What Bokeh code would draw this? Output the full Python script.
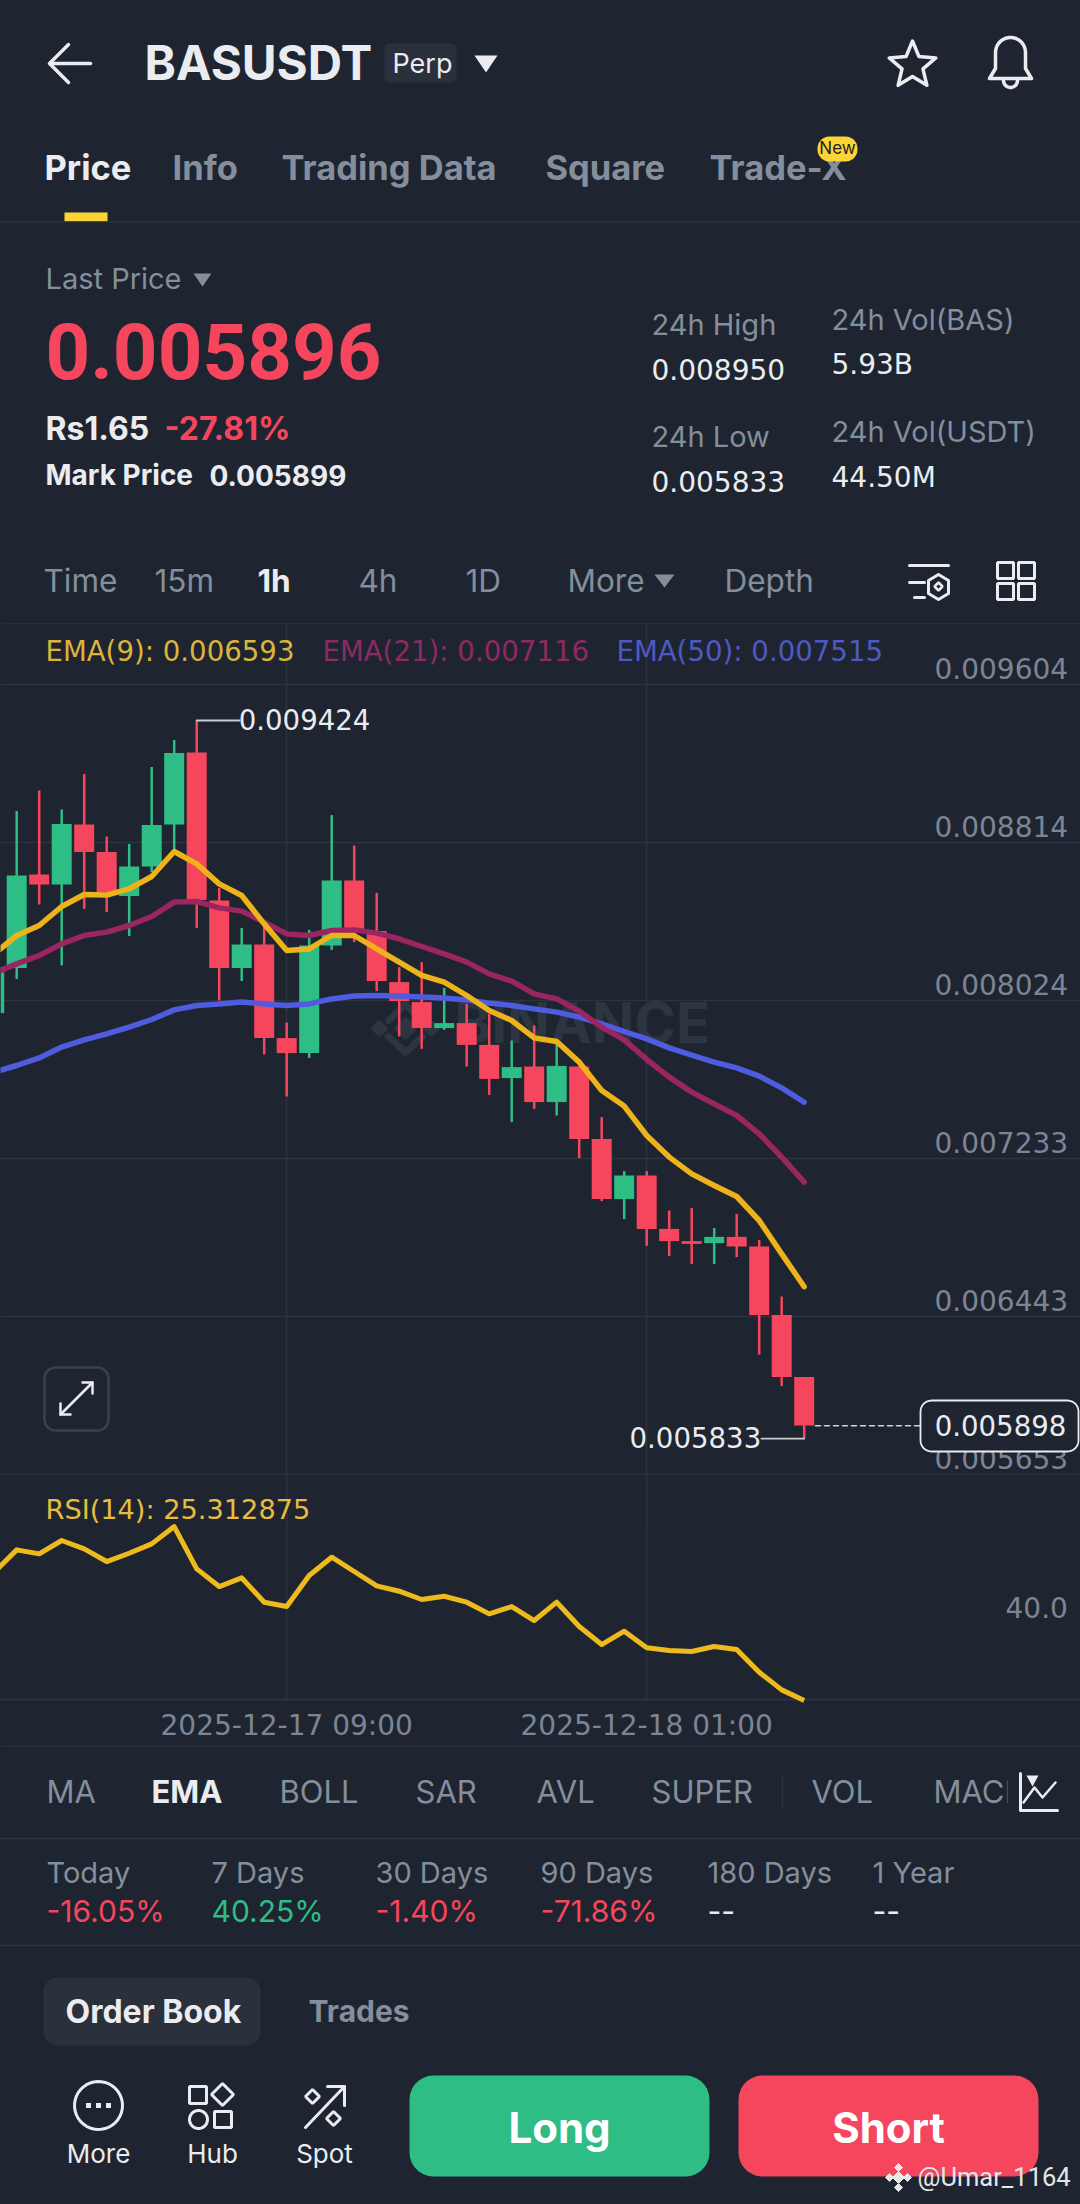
import numpy as np
from bokeh.plotting import figure
from bokeh.layouts import column
from bokeh.models import Range1d, LinearAxis, FixedTicker, PrintfTickFormatter
from bokeh.core.properties import value
from bokeh.embed import file_html
from bokeh.resources import INLINE

# ---------- data ----------
idx = list(range(-1, 36))
opens = [0.007961,0.008186,0.008654,0.008604,0.008904,0.008766,0.008546,0.008694,0.008904,0.009264,0.008524,0.008186,0.008304,0.007836,0.007761,0.008299,0.008624,0.008371,0.008116,0.008016,0.007886,0.007911,0.007802,0.007636,0.007694,0.007516,0.007694,0.007332,0.007031,0.007149,0.006882,0.006821,0.006811,0.006842,0.006794,0.006451,0.006141]
closes = [0.008191,0.008649,0.008604,0.008907,0.008767,0.008566,0.008694,0.008901,0.009261,0.008527,0.008186,0.008304,0.007836,0.007761,0.008299,0.008624,0.008374,0.008121,0.008021,0.007887,0.007911,0.007802,0.007632,0.007691,0.007516,0.007697,0.007332,0.007032,0.007149,0.006882,0.006821,0.006807,0.006842,0.006794,0.006451,0.006141,0.005899]
highs = [0.008300,0.008971,0.009074,0.008979,0.009157,0.008844,0.008807,0.009191,0.009327,0.009424,0.008587,0.008386,0.008424,0.007914,0.008377,0.008951,0.008799,0.008562,0.008191,0.008216,0.008087,0.008007,0.007957,0.007824,0.007899,0.007832,0.007697,0.007441,0.007171,0.007171,0.006974,0.006987,0.006887,0.006957,0.006827,0.006544,0.006141]
lows = [0.007961,0.008132,0.008504,0.008199,0.008482,0.008466,0.008346,0.008666,0.008774,0.008387,0.008024,0.008121,0.007754,0.007544,0.007737,0.008277,0.008316,0.008071,0.007844,0.007782,0.007877,0.007694,0.007552,0.007416,0.007482,0.007449,0.007236,0.007021,0.006931,0.006797,0.006746,0.006707,0.006707,0.006741,0.006254,0.006096,0.005833]
ema9 = [0.008257,0.008349,0.008399,0.008494,0.008554,0.008551,0.008582,0.008644,0.008769,0.008707,0.008607,0.008549,0.008407,0.008274,0.008282,0.008349,0.008349,0.008282,0.008216,0.008150,0.008116,0.008049,0.007974,0.007924,0.007837,0.007819,0.007716,0.007574,0.007496,0.007349,0.007241,0.007157,0.007099,0.007044,0.006924,0.006757,0.006593]
ema21 = [0.008161,0.008207,0.008249,0.008307,0.008349,0.008366,0.008399,0.008444,0.008516,0.008519,0.008487,0.008471,0.008416,0.008357,0.008349,0.008374,0.008377,0.008361,0.008332,0.008294,0.008257,0.008216,0.008157,0.008121,0.008057,0.008032,0.007971,0.007891,0.007827,0.007729,0.007641,0.007566,0.007507,0.007449,0.007357,0.007241,0.007116]
ema50 = [0.007666,0.007699,0.007737,0.007791,0.007827,0.007857,0.007891,0.007929,0.007977,0.007999,0.008007,0.008016,0.008007,0.007999,0.008007,0.008032,0.008046,0.008049,0.008047,0.008041,0.008037,0.008027,0.008011,0.007999,0.007982,0.007966,0.007941,0.007907,0.007869,0.007832,0.007787,0.007751,0.007716,0.007687,0.007646,0.007587,0.007515]
rsi = [45.51,49.03,48.40,50.50,49.19,47.19,48.50,49.97,52.70,46.04,43.25,44.62,40.79,40.10,44.99,47.87,45.62,43.36,42.52,41.21,41.73,40.79,38.95,40.10,37.90,40.79,36.96,34.12,36.22,33.60,33.18,33.02,33.81,33.33,29.76,26.98,25.31]
price_ticks = [0.009604,0.008814,0.008024,0.007233,0.006443,0.005653]
time_ticks = [12, 28]
time_labels = ["2025-12-17 09:00", "2025-12-18 01:00"]
high_val, low_val, last_val = 0.009424, 0.005833, 0.005898

tabs = [("Price",44),("Info",172),("Trading Data",281),("Square",545),("Trade-X",709)]
intervals = [("Time",43),("15m",154),("1h",257),("4h",358),("1D",465),("More",567),("Depth",724)]
stats_l = [("24h High","0.008950",651,325,370),("24h Low","0.005833",651,437,482),
           ("24h Vol(BAS)","5.93B",831,320,365),("24h Vol(USDT)","44.50M",831,432,478)]
indicators = [("MA",46),("EMA",151),("BOLL",279),("SAR",415),("AVL",536),("SUPER",651),("VOL",811),("MACD",933)]
periods = [("Today","-16.05%",46),("7 Days","40.25%",211),("30 Days","-1.40%",375),("90 Days","-71.86%",540),("180 Days","--",707),("1 Year","--",872)]

# ---------- style ----------
BG="#1e2530"; GRID="#2c333e"; RED="#f6465d"; GREEN="#2ebd85"; GRAY="#848e9c"
WHITE="#eaecef"; CHIP="#2a303c"; YEL="#fcd535"; FONT="Inter"; NUM="DejaVu Sans"; AXC="#7d8594"

def fig(h, xr, yr):
    p = figure(width=1080, height=h, x_range=xr, y_range=yr, output_backend="svg", toolbar_location=None,
               background_fill_color=BG, border_fill_color=BG, min_border=0, outline_line_color=None,
               x_axis_location=None, y_axis_location=None)
    p.grid.visible = False
    return p

def T(p, x, y, s, size, color, bold=False, align="left", level="glyph", font=FONT):
    p.text(x=[x], y=[y], text=[s], y_offset=-1.5, text_font=value(font), text_font_size=value(f"{size}px"),
           text_color=color, text_align=align, text_baseline="middle",
           text_font_style="bold" if bold else "normal", level=level)

def L(p, xs, ys, color=WHITE, w=3.0, level="glyph", dash="solid"):
    p.line(xs, ys, line_color=color, line_width=w, level=level, line_dash=dash, line_join="round", line_cap="round")

def rr_pts(x0,y0,x1,y1,r):
    a=np.linspace(0,np.pi/2,8)
    xs=np.concatenate([x1-r+r*np.sin(a), x1-r+r*np.cos(a), x0+r-r*np.sin(a), x0+r-r*np.cos(a)])
    ys=np.concatenate([y0+r-r*np.cos(a), y1-r+r*np.sin(a), y1-r+r*np.cos(a), y0+r-r*np.sin(a)])
    return xs,ys

def RR(p,x0,y0,x1,y1,r,fill=None,line=None,w=2,level="glyph",fx=lambda v:v,fy=lambda v:v):
    xs,ys=rr_pts(x0,y0,x1,y1,r)
    p.patch(fx(xs),fy(ys),fill_color=fill,fill_alpha=1 if fill else 0,line_color=line,line_width=w,level=level)

def circ(cx,cy,r,a0=0,a1=2*np.pi,n=40):
    a=np.linspace(a0,a1,n)
    return cx+r*np.cos(a), cy+r*np.sin(a)

def dia(p,cx,cy,r,color,fill=True,w=3,fx=lambda v:v,fy=lambda v:v):
    xs=np.array([cx,cx+r,cx,cx-r,cx]); ys=np.array([cy-r,cy,cy+r,cy,cy-r])
    p.patch(fx(xs),fy(ys),fill_color=color if fill else None,fill_alpha=1 if fill else 0,line_color=color,line_width=w)

# ---------- header ----------
h = fig(624, Range1d(0,1080), Range1d(624,0))
L(h,[50,90],[63,63],WHITE,3.5); L(h,[68,49,68],[44,63,82],WHITE,3.5)
T(h,144,63,"BASUSDT",47.5,WHITE,True)
RR(h,384,43,456,82,5,CHIP)
T(h,392,64,"Perp",27,WHITE)
h.patch([474,497,485.5],[55,55,72],fill_color=WHITE,line_color=None)
a=np.linspace(-np.pi/2,1.5*np.pi,11); rad=np.array([24.5,11]*5+[24.5])
h.patch(912+rad*np.cos(a),65+rad*np.sin(a),fill_alpha=0,line_color=WHITE,line_width=3.5,line_join="round")
bx,by=circ(1010,52,15,np.pi,2*np.pi,20)
L(h,np.concatenate([[989,995],bx,[1025,1031,989]]),np.concatenate([[78,68],by,[68,78,78]]),WHITE,3.5)
bx,by=circ(1010,80,7,0,np.pi,12); L(h,bx,by,WHITE,3.5)
for i,(s,x) in enumerate(tabs):
    T(h,x,168,s,34.5,WHITE if i==0 else GRAY,True)
h.quad(left=[64],right=[107],top=[212],bottom=[221],fill_color=YEL,line_color=None)
L(h,[0,1080],[221.5,221.5],GRID,1.5)
RR(h,817,136,857,161,12,YEL,level="overlay")
T(h,837,149,"New",17,"#1e2329",False,"center",level="overlay")
T(h,45,279,"Last Price",29,GRAY)
h.patch([193,211,202],[273,273,286],fill_color=GRAY,line_color=None)
T(h,45,352,"0.005896",78,RED,True,font="Roboto")
T(h,45,429,"Rs1.65",32,WHITE,True)
T(h,164,429,"-27.81%",32,RED,True)
T(h,45,476,"Mark Price",28,WHITE,True)
T(h,209,476,"0.005899",28,WHITE,True)
for lab,val,x,y1,y2 in stats_l:
    T(h,x,y1,lab,29,GRAY); T(h,x,y2,val,28,WHITE,font=NUM)
for s,x in intervals:
    T(h,x,581,s,31.5,WHITE if s=="1h" else GRAY,s=="1h")
h.patch([654,674,664],[574,574,587],fill_color=GRAY,line_color=None)
L(h,[909,948],[565,565],WHITE,3); L(h,[909,924],[582,582],WHITE,3); L(h,[914,924],[597,597],WHITE,3)
xs=np.array([938,948,948,938,928,928,938]); ys=np.array([574,580,593,599,593,580,574]); L(h,xs,ys,WHITE,3)
dia(h,938,586,4,WHITE,False,2.5)
for cx,cy in [(1005,570),(1026,570),(1005,591),(1026,591)]:
    h.quad(left=[cx-8],right=[cx+8],top=[cy-8],bottom=[cy+8],fill_alpha=0,line_color=WHITE,line_width=3)
L(h,[0,1080],[623.5,623.5],GRID,1.5)

# ---------- price chart ----------
X=lambda px:(np.asarray(px,dtype=float)-16.2)/22.5
Y=lambda py:0.008024+(1000-np.asarray(py,dtype=float))*5e-6
x_rng=Range1d(float(X(0)),float(X(1080)))
P_TOP=float(Y(624)); P_BOT=float(Y(1475))
p = fig(851, x_rng, Range1d(P_BOT,P_TOP))
p.xgrid.visible=True; p.ygrid.visible=True
p.xgrid.ticker=FixedTicker(ticks=time_ticks); p.ygrid.ticker=FixedTicker(ticks=price_ticks)
p.xgrid.grid_line_color=GRID; p.ygrid.grid_line_color=GRID
p.xgrid.grid_line_width=1.5; p.ygrid.grid_line_width=1.5

# watermark
WM="#2d3540"
p.text(x=[float(X(454))],y=[float(Y(1022))],text=["BINANCE"],text_font=value(FONT),text_font_style="bold",
       text_font_size=value("56px"),text_color=WM,text_baseline="middle")
for cx,cy,r_ in [(405,1028,10),(379,1028,7),(431,1028,7)]:
    dia(p,cx,cy,r_,WM,fx=X,fy=Y)
L(p,X([388,405,422]),Y([1020,1004,1020]),WM,7); L(p,X([388,405,422]),Y([1036,1052,1036]),WM,7)

col=[GREEN if c>=o else RED for o,c in zip(opens,closes)]
p.segment(x0=idx,x1=idx,y0=lows,y1=highs,line_color=col,line_width=2.5)
p.vbar(x=idx,width=0.889,top=[max(a,b) for a,b in zip(opens,closes)],bottom=[min(a,b) for a,b in zip(opens,closes)],
       fill_color=col,line_color=None)
p.line(idx,ema50,line_color="#4f5ce0",line_width=5.5,line_cap="round",line_join="round")
p.line(idx,ema21,line_color="#9b2560",line_width=5.5,line_cap="round",line_join="round")
p.line(idx,ema9,line_color="#eeb31b",line_width=5.5,line_cap="round",line_join="round")

ax=LinearAxis(ticker=FixedTicker(ticks=price_ticks),formatter=PrintfTickFormatter(format="%.6f"),
              fixed_location=float(X(921)),y_range_name="lab")
p.extra_y_ranges={"lab":Range1d(P_BOT-8e-5,P_TOP-8e-5)}
ax.axis_line_color=None; ax.major_tick_line_color=None; ax.minor_tick_line_color=None
ax.major_label_text_color=AXC; ax.major_label_text_font=NUM; ax.major_label_text_font_size="28px"
ax.major_label_standoff=7
p.add_layout(ax,"right")

T(p,float(X(45)),float(Y(652)),"EMA(9): 0.006593",27.6,"#dcb43a",font=NUM)
T(p,float(X(322)),float(Y(652)),"EMA(21): 0.007116",27.6,"#8e2a63",font=NUM)
T(p,float(X(616)),float(Y(652)),"EMA(50): 0.007515",27.6,"#4f59c4",font=NUM)

# high / low markers
hi_i=idx[highs.index(max(highs))]; lo_i=idx[lows.index(min(lows))]
L(p,[hi_i,hi_i+1.9],[high_val,high_val],"#c8ccd2",1.8)
p.text(x=[hi_i],y=[high_val],text=[f"{high_val:.6f}"],x_offset=42,y_offset=-1,text_font=value(NUM),text_font_size=value("27.6px"),
       text_color=WHITE,text_baseline="middle")
L(p,[lo_i,lo_i-1.9],[low_val,low_val],"#c8ccd2",1.8)
p.text(x=[lo_i],y=[low_val],text=[f"{low_val:.6f}"],x_offset=-43,y_offset=-1,text_font=value(NUM),text_font_size=value("27.6px"),
       text_color=WHITE,text_align="right",text_baseline="middle")
L(p,[lo_i+0.5,float(X(920))],[last_val,last_val],"#d0d4da",1.5,dash="5 4")
RR(p,920,1400,1078,1451,11,BG,WHITE,1.8,level="annotation",fx=X,fy=Y)
p.text(x=[float(X(1000))],y=[last_val],text=[f"{last_val:.6f}"],text_font=value(NUM),text_font_size=value("27.6px"),
       text_color=WHITE,text_align="center",text_baseline="middle",level="annotation")
# expand button
RR(p,44,1367,108,1430,11,BG,"#3a414d",2.5,fx=X,fy=Y)
L(p,X([60,92]),Y([1414,1382]),WHITE,2.5)
L(p,X([60,60,70]),Y([1403,1414,1414]),WHITE,2.5); L(p,X([82,92,92]),Y([1382,1382,1393]),WHITE,2.5)

# ---------- RSI ----------
YR=lambda py:40+(1606.7-py)/6.35
r = fig(270, Range1d(float(X(0)),float(X(1080))), Range1d(YR(1745),YR(1475)))
r.segment(x0=time_ticks,x1=time_ticks,y0=[YR(1699)]*2,y1=[YR(1475)]*2,line_color=GRID,line_width=1.5)
r.line(idx,rsi,line_color="#eebb1e",line_width=5,line_join="round",level="annotation")
T(r,float(X(45)),YR(1510),"RSI(14): 25.312875",27.2,"#e6bd3c",font=NUM)
xa=LinearAxis(ticker=FixedTicker(ticks=time_ticks),major_label_overrides=dict(zip(time_ticks,time_labels)),
              fixed_location=YR(1699))
xa.axis_line_color=GRID; xa.axis_line_width=2; xa.major_tick_line_color=None; xa.minor_tick_line_color=None
xa.major_label_text_color=AXC; xa.major_label_text_font=NUM; xa.major_label_text_font_size="28px"
xa.major_label_standoff=3
r.add_layout(xa,"below")
ya=LinearAxis(ticker=FixedTicker(ticks=[40]),formatter=PrintfTickFormatter(format="%.1f"),fixed_location=float(X(993)))
ya.axis_line_color=None; ya.major_tick_line_color=None; ya.minor_tick_line_color=None
ya.major_label_text_color=AXC; ya.major_label_text_font=NUM; ya.major_label_text_font_size="28px"
ya.major_label_standoff=6
r.add_layout(ya,"right")

# ---------- footer ----------
f = fig(459, Range1d(0,1080), Range1d(2204,1745))
L(f,[0,1080],[1745.5,1745.5],GRID,1.5)
for s,x in indicators:
    T(f,x,1792,s,31,WHITE if s=="EMA" else GRAY,s=="EMA")
f.quad(left=[1007],right=[1080],top=[1770],bottom=[1815],fill_color=BG,line_color=None)
L(f,[782,782],[1775,1808],GRID,1.5)
L(f,[1020,1020,1057],[1773,1810,1810],WHITE,3)
L(f,[1023,1034,1042,1055],[1802,1787,1797,1782],WHITE,2.5)
f.patch([1026,1038,1032],[1775,1775,1786],fill_color=WHITE,line_color=None)
L(f,[0,1080],[1838,1838],GRID,1.5)
for lab,val,x in periods:
    T(f,x,1873,lab,29,GRAY)
    T(f,x,1912,val,30,RED if val.startswith("-") and val!="--" else (GREEN if val!="--" else WHITE))
L(f,[0,1080],[1945,1945],GRID,1.5)
RR(f,43,1977,260,2045,14,CHIP)
T(f,65,2012,"Order Book",32,WHITE,True)
T(f,308,2012,"Trades",30,GRAY,True)
cx,cy=circ(98,2105,24); L(f,cx,cy,WHITE,3)
f.scatter([88,98,108],[2105,2105,2105],size=5,marker="square",fill_color=WHITE,line_color=None)
T(f,98,2154,"More",26,WHITE,False,"center")
f.quad(left=[189],right=[206],top=[2086],bottom=[2103],fill_alpha=0,line_color=WHITE,line_width=3)
dia(f,222,2094,11,WHITE,False,3)
cx,cy=circ(198,2119,9); L(f,cx,cy,WHITE,3)
f.quad(left=[214],right=[231],top=[2111],bottom=[2127],fill_alpha=0,line_color=WHITE,line_width=3)
T(f,212,2154,"Hub",26,WHITE,False,"center")
dia(f,312,2096,7,WHITE,False,3); dia(f,333,2118,7,WHITE,False,3)
L(f,[305,344],[2127,2086],WHITE,3); L(f,[327,344,344],[2086,2086,2105],WHITE,3)
T(f,324,2154,"Spot",26,WHITE,False,"center")
RR(f,409,2075,709,2176,24,GREEN)
T(f,559,2128,"Long",42,"#ffffff",True,"center")
RR(f,738,2075,1038,2176,24,RED)
T(f,888,2128,"Short",42,"#ffffff",True,"center")
for cx0,cy0,r0 in [(898,2177,6),(889,2177,4),(907,2177,4),(898,2167,4),(898,2187,4)]:
    dia(f,cx0,cy0,r0,"#e8e8e8",w=1)
T(f,917,2178,"@Umar_1164",25.5,"#e4e6ea",font="Roboto")

layout = column(h,p,r,f,spacing=0)
TEMPLATE = """{% block preamble %}<style>html,body{margin:0;padding:0;background:#1e2530;overflow:hidden}</style>{% endblock %}"""
open("out.html","w").write(file_html(layout, INLINE, template=TEMPLATE))
